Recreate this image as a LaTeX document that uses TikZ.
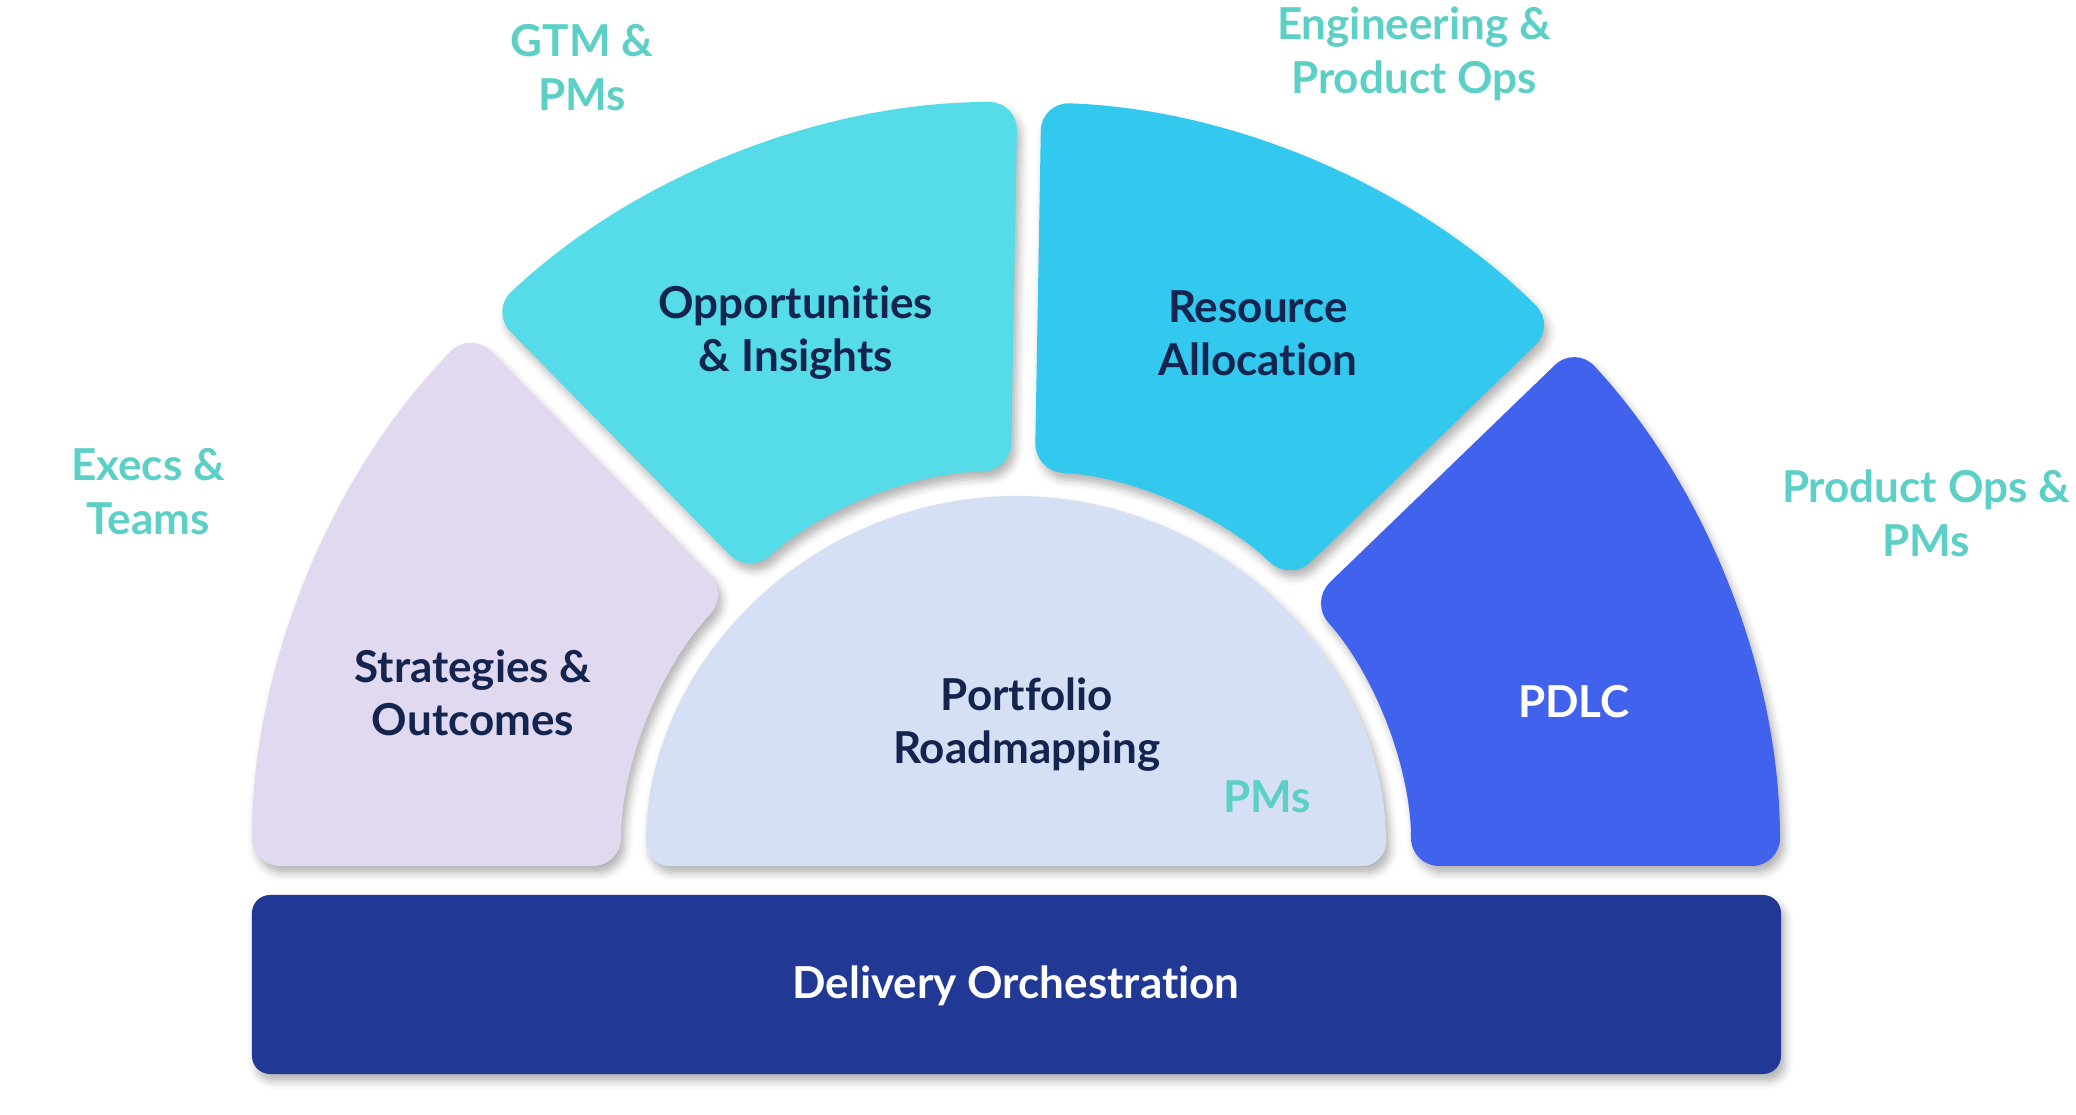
\documentclass[tikz,border=0pt]{standalone}
\usepackage{fontspec}
\setmainfont{Lato}[Ligatures=NoCommon]
\usetikzlibrary{positioning,shadows.blur}

\definecolor{stratfill}{HTML}{E0D9F0}
\definecolor{oppfill}{HTML}{55DCE8}
\definecolor{resfill}{HTML}{33C8EE}
\definecolor{pdlcfill}{HTML}{4162EC}
\definecolor{portfill}{HTML}{D6E0F4}
\definecolor{delivfill}{HTML}{213894}
\definecolor{navytext}{HTML}{13244F}
\definecolor{tealtext}{HTML}{5CCFC6}

\begin{document}
\begin{tikzpicture}[
    x=1pt, y=1pt,
    sector/.style={rounded corners=28pt, blur shadow={shadow xshift=4pt, shadow yshift=-7pt, shadow blur radius=8pt, shadow opacity=30}},
    lbl/.style={align=center, font=\fontsize{44}{53}\selectfont\bfseries, text=navytext},
    role/.style={align=center, font=\fontsize{44}{54}\selectfont\bfseries, text=tealtext}
]
    \useasboundingbox (-1016,-249) rectangle (1060,866);
    % ring of four sectors
    \fill[sector, stratfill] (-580,0) -- (-395,0) arc[start angle=180, end angle={134.5+asin(14/395)}, radius=395pt]
        -- ({134.5+asin(14/764)}:764pt) arc[start angle={134.5+asin(14/764)}, end angle=180, radius=764pt] -- cycle;
    \fill[sector, oppfill] ({89+asin(12/395)}:395pt) arc[start angle={89+asin(12/395)}, end angle={134.5-asin(14/395)}, radius=395pt]
        -- ({134.5-asin(14/764)}:764pt) arc[start angle={134.5-asin(14/764)}, end angle={89+asin(12/764)}, radius=764pt] -- cycle;
    \fill[sector, resfill] ({44+asin(14/395)}:395pt) arc[start angle={44+asin(14/395)}, end angle={89-asin(12/395)}, radius=395pt]
        -- ({89-asin(12/764)}:764pt) arc[start angle={89-asin(12/764)}, end angle={44+asin(14/764)}, radius=764pt] -- cycle;
    \fill[sector, pdlcfill] (580,0) -- (764,0) arc[start angle=0, end angle={44-asin(14/764)}, radius=764pt]
        -- ({44-asin(14/395)}:395pt) arc[start angle={44-asin(14/395)}, end angle=0, radius=395pt] -- cycle;
    % inner half disc
    \fill[sector, portfill, rounded corners=24pt] (0,0) -- (370,0) arc[start angle=0, end angle=180, radius=370pt] -- cycle;
    % base bar
    \fill[sector, delivfill, rounded corners=18pt] (-764,-29) rectangle (765,-208);

    \node[lbl] (strat) at (-543,173) {Strategies \&\\Outcomes};
    \node[lbl] (opp) at (-220,533) {Opportunities\\\& Insights};
    \node[lbl] (res) at (242,533) {Resource\\Allocation};
    \node[lbl, text=white] (pdlc) at (558,164) {PDLC};
    \node[lbl] (port) at (11,141) {Portfolio\\Roadmapping};
    \node[lbl, text=white] (deliv) at (0,-120) {Delivery Orchestration};

    \node[role] (execs) at (-868,374) {Execs \&\\Teams};
    \node[role] (gtm) at (-434,798) {GTM \&\\PMs};
    \node[role] (eng) at (398,812) {Engineering \&\\Product Ops};
    \node[role] (prodops) at (910,353) {Product Ops \&\\PMs};
    \node[role] (pms) at (251,69) {PMs};
\end{tikzpicture}
\end{document}
